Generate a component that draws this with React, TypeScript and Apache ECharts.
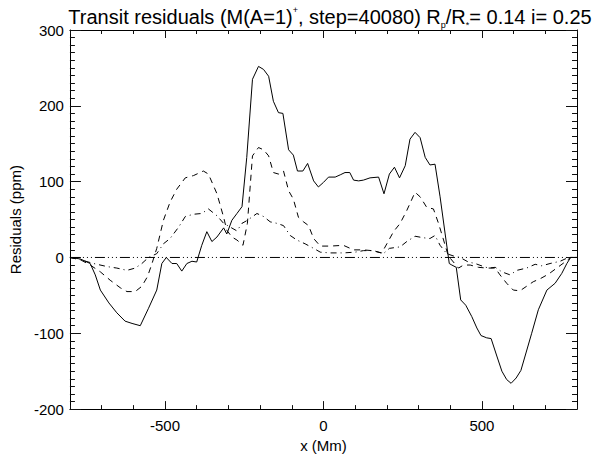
import React, { useEffect, useRef } from "react";
import * as echarts from "echarts";

const xMajorTicks = [-500, 0, 500];

const solidLine: [number, number][] = [
  [-800, 0], [-767, -2], [-736, -8], [-720, -23], [-704, -43], [-677, -60], [-652, -73], [-626, -84],
  [-604, -87], [-578, -90], [-552, -67], [-526, -43], [-510, -8], [-496, 0], [-478, -8], [-463, -8],
  [-447, -18], [-431, -8], [-415, -5], [-400, -6], [-384, 16], [-368, 34], [-352, 21], [-336, 27],
  [-315, 39], [-305, 31], [-289, 49], [-273, 58], [-257, 67], [-242, 132], [-224, 235], [-205, 252],
  [-189, 248], [-173, 239], [-158, 206], [-142, 191], [-128, 190], [-110, 142], [-95, 135], [-82, 114],
  [-65, 114], [-50, 124], [-31, 101], [-16, 93], [0, 99], [16, 106], [37, 106], [53, 109], [68, 112],
  [83, 112], [95, 102], [111, 101], [126, 102], [147, 105], [174, 106], [191, 84], [208, 110], [224, 119],
  [240, 105], [258, 121], [273, 156], [289, 165], [305, 158], [321, 132], [336, 122], [352, 123],
  [368, 80], [384, 31], [397, -8], [405, -10], [419, -13], [433, -56], [449, -63], [468, -78], [484, -93],
  [497, -103], [515, -106], [529, -107], [547, -130], [563, -150], [578, -161], [592, -166], [608, -159],
  [623, -149], [639, -126], [657, -100], [678, -69], [705, -43], [731, -34], [752, -21], [768, -8],
  [780, 0], [800, 0],
];

const dashedLine: [number, number][] = [
  [-800, 0], [-767, -3], [-736, -10], [-704, -19], [-673, -30], [-641, -40], [-620, -45], [-594, -45],
  [-573, -38], [-555, -25], [-541, -8], [-526, 12], [-505, 49], [-484, 73], [-463, 90], [-436, 105],
  [-410, 108], [-379, 114], [-363, 110], [-336, 84], [-315, 53], [-305, 36], [-289, 27], [-273, 23],
  [-254, 16], [-240, 45], [-224, 134], [-205, 145], [-189, 142], [-173, 134], [-158, 112], [-142, 110],
  [-126, 114], [-110, 88], [-95, 77], [-79, 53], [-63, 47], [-47, 42], [-31, 25], [-10, 15], [21, 15],
  [63, 16], [95, 10], [126, 10], [153, 9], [184, 6], [200, 18], [221, 34], [242, 45], [263, 62], [289, 86],
  [305, 80], [326, 66], [347, 64], [363, 45], [379, 23], [394, 2], [410, -6], [426, -14], [442, -10],
  [463, -10], [489, -13], [515, -14], [542, -14], [557, -23], [578, -34], [599, -43], [620, -44],
  [641, -38], [662, -32], [684, -28], [710, -22], [736, -14], [762, -6], [780, 0], [800, 0],
];

const dashDotLine: [number, number][] = [
  [-800, 0], [-767, -3], [-725, -8], [-683, -12], [-652, -14], [-620, -17], [-594, -14], [-573, -8],
  [-552, 0], [-526, 5], [-505, 18], [-484, 25], [-457, 40], [-436, 54], [-410, 57], [-384, 58],
  [-363, 64], [-336, 55], [-315, 45], [-294, 40], [-273, 35], [-257, 45], [-240, 49], [-210, 58],
  [-189, 54], [-168, 47], [-147, 45], [-126, 42], [-105, 29], [-84, 23], [-58, 18], [-31, 12], [-10, 7],
  [21, 6], [63, 6], [100, 7], [126, 9], [158, 9], [189, 5], [208, 12], [242, 14], [263, 21], [289, 28],
  [315, 26], [336, 25], [352, 29], [368, 16], [389, 5], [410, 2], [431, 0], [457, -6], [479, -8],
  [505, -12], [521, -14], [542, -13], [563, -19], [589, -23], [610, -17], [641, -14], [668, -9],
  [689, -11], [715, -8], [747, -5], [773, 0], [800, 0],
];

const zeroLine: [number, number][] = [
  [-800, 0],
  [800, 0],
];

const FONT = "'Liberation Sans', Arial, Helvetica, sans-serif";

export default function App() {
  const ref = useRef<HTMLDivElement>(null);
  useEffect(() => {
    if (!ref.current) return;
    const chart = echarts.init(ref.current, null, { renderer: "svg" });
    const black = "#000";
    const tickStyle = { color: "#111", width: 1 };
    const lineBase = { show: true, onZero: false, lineStyle: { color: black, width: 1 } };
    const noLine = { show: false, onZero: false };
    const xCommon = {
      type: "value" as const,
      min: -800,
      max: 800,
      interval: 100,
      splitLine: { show: false },
    };
    const majorX = (v: number) => (xMajorTicks.indexOf(v) >= 0 ? String(v) : "");
    chart.setOption({
      animation: false,
      backgroundColor: "#fff",
      title: {
        text: "Transit residuals (M(A=1){sup|+}, step=40080) R{sub|p}/R{sub|*}= 0.14 i= 0.25",
        left: 325,
        textAlign: "center",
        top: 0,
        textStyle: {
          fontFamily: FONT,
          fontSize: 20,
          fontWeight: "normal",
          color: black,
          lineHeight: 24,
          rich: {
            sup: { fontFamily: FONT, fontSize: 9, verticalAlign: "top", lineHeight: 24, padding: [0, 0, 9, 0] },
            sub: { fontFamily: FONT, fontSize: 9, verticalAlign: "bottom", lineHeight: 24, padding: [6, 0, 0, 0] },
          },
        },
      },
      grid: { left: 69, right: 16, top: 30, bottom: 46, containLabel: false },
      xAxis: [
        {
          ...xCommon,
          position: "bottom",
          name: "x (Mm)",
          nameLocation: "middle",
          nameGap: 27,
          nameTextStyle: { fontFamily: FONT, fontSize: 15, color: black },
          axisLine: lineBase,
          axisTick: { show: true, inside: true, length: 4, lineStyle: tickStyle },
          axisLabel: {
            show: true,
            formatter: majorX,
            fontFamily: FONT,
            fontSize: 15,
            color: black,
            margin: 9,
          },
        },
        {
          ...xCommon,
          position: "bottom",
          axisLine: noLine,
          axisTick: { show: true, inside: true, length: 8, customValues: xMajorTicks, lineStyle: tickStyle },
          axisLabel: { show: false },
        },
        {
          ...xCommon,
          position: "top",
          axisLine: lineBase,
          axisTick: { show: true, inside: true, length: 4, lineStyle: tickStyle },
          axisLabel: { show: false },
        },
        {
          ...xCommon,
          position: "top",
          axisLine: noLine,
          axisTick: { show: true, inside: true, length: 8, customValues: xMajorTicks, lineStyle: tickStyle },
          axisLabel: { show: false },
        },
      ],
      yAxis: [
        {
          type: "value",
          position: "left",
          min: -200,
          max: 300,
          interval: 100,
          name: "Residuals (ppm)",
          nameLocation: "middle",
          nameGap: 46,
          nameTextStyle: { fontFamily: FONT, fontSize: 15, color: black },
          axisLine: lineBase,
          axisTick: { show: true, inside: true, length: 11, lineStyle: tickStyle },
          minorTick: { show: true, splitNumber: 10, length: 5, lineStyle: tickStyle },
          splitLine: { show: false },
          axisLabel: {
            show: true,
            fontFamily: FONT,
            fontSize: 15,
            color: black,
            margin: 6,
          },
        },
        {
          type: "value",
          position: "right",
          min: -200,
          max: 300,
          interval: 100,
          axisLine: lineBase,
          axisTick: { show: true, inside: true, length: 11, lineStyle: tickStyle },
          minorTick: { show: true, splitNumber: 10, length: 5, lineStyle: tickStyle },
          splitLine: { show: false },
          axisLabel: { show: false },
        },
      ],
      series: [
        {
          type: "line",
          data: zeroLine,
          symbol: "none",
          lineStyle: { color: black, width: 1, type: [10, 3, 1, 3, 1, 3, 1, 3] },
        },
        {
          type: "line",
          data: solidLine,
          symbol: "none",
          lineStyle: { color: black, width: 1, type: "solid" },
        },
        {
          type: "line",
          data: dashedLine,
          symbol: "none",
          lineStyle: { color: black, width: 1, type: [6, 5] },
        },
        {
          type: "line",
          data: dashDotLine,
          symbol: "none",
          lineStyle: { color: black, width: 1, type: [6, 4, 1, 4] },
        },
      ],
    });
    return () => chart.dispose();
  }, []);
  return <div ref={ref} style={{ width: 593, height: 458, position: "absolute", left: 0, top: 0 }} />;
}
